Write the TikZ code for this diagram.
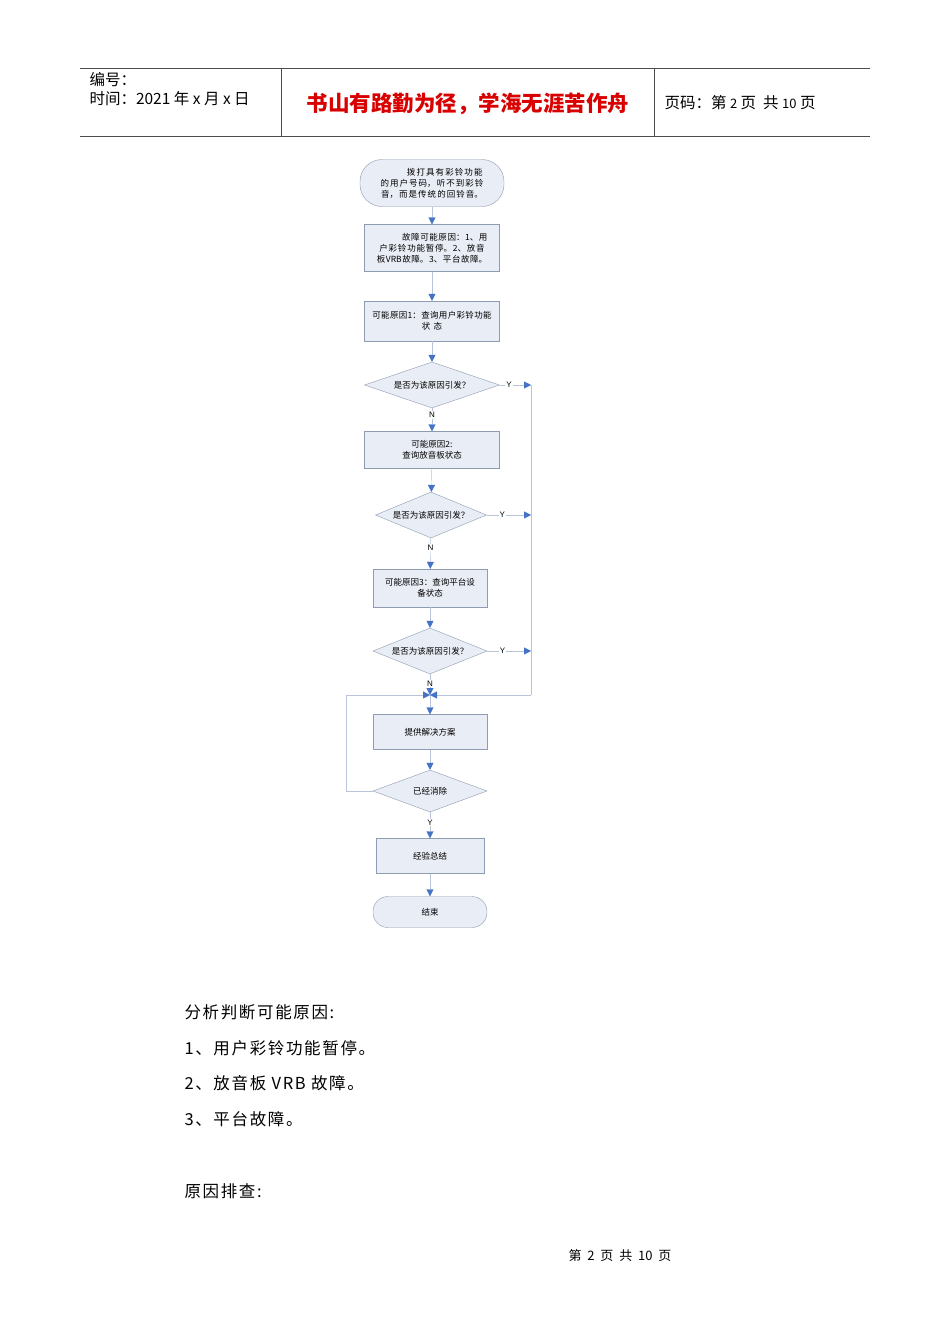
\documentclass[tikz,border=0pt]{standalone}
\usepackage{fontspec}
\setmainfont{Liberation Sans}
\newfontfamily\cjk{Noto Sans CJK SC}
\newfontfamily\cjkw[LetterSpace=10]{Noto Sans CJK SC}
\XeTeXlinebreaklocale "zh"
\XeTeXlinebreakskip=0pt plus 1pt
\usetikzlibrary{shapes.geometric,arrows.meta}
\definecolor{fillc}{HTML}{E9EDF5}
\definecolor{bordc}{HTML}{8E9BB0}
\definecolor{arrc}{HTML}{4472C4}
\definecolor{linec}{HTML}{B8C4D8}
\begin{document}
\begin{tikzpicture}[x=1pt,y=-1pt,
  boxs/.style={draw=bordc,fill=fillc,font=\cjk\fontsize{8.5}{11}\selectfont,align=center,inner sep=1pt},
  dia/.style={draw=bordc,fill=fillc,diamond,aspect=3,font=\cjk\fontsize{8.5}{10}\selectfont,inner sep=0pt},
  conn/.style={draw=linec,-{Triangle[length=7pt,width=7pt,fill=arrc,color=arrc]}},
  lab/.style={font=\fontsize{8}{9}\selectfont,fill=white,inner sep=1pt}]
\useasboundingbox (0,0) rectangle (950,1344);
\fill[white] (0,0) rectangle (950,1344);
% header
\draw[black!70] (80,68) -- (870,68);
\draw[black!70] (80,136) -- (870,136);
\draw[black!70] (281,68) -- (281,136);
\draw[black!70] (654,68) -- (654,136);
\node[anchor=west,font=\cjk\fontsize{15.5}{17}\selectfont] (h1) at (86,80) {编号：};
\node[anchor=west,font=\cjk\fontsize{15.5}{17}\selectfont] (h2) at (86,99) {时间：2021 年 x 月 x 日};
\node[font=\cjk\bfseries\fontsize{21.5}{24}\selectfont,text=red!85!black] (h3) at (468,104) {书山有路勤为径，学海无涯苦作舟};
\node[anchor=west,font=\cjk\fontsize{15.5}{17}\selectfont] (h4) at (661,103) {页码：第 {\fontsize{13}{14}\selectfont 2} 页\ \ 共 {\fontsize{13}{14}\selectfont 10} 页};
% flowchart
\node[boxs,rounded corners=22pt,minimum width=144pt,minimum height=47pt,text width=138pt] (s) at (432,183) {\hspace*{3em}拨打具有彩铃功能的用户号码，听不到彩铃音，而是传统的回铃音。};
\node[boxs,minimum width=135pt,minimum height=47pt,text width=131pt] (b1) at (432,248) {\hspace*{3em}故障可能原因：1、用户彩铃功能暂停。2、放音板VRB故障。3、平台故障。};
\node[boxs,minimum width=135pt,minimum height=40pt,text width=131pt] (b2) at (432,321) {可能原因1：查询用户彩铃功能\\状态};
\node[dia,minimum width=135pt,minimum height=46pt] (d1) at (432,385) {是否为该原因引发？};
\node[boxs,minimum width=135pt,minimum height=37pt] (b3) at (432,450) {可能原因2:\\查询放音板状态};
\node[dia,minimum width=111pt,minimum height=46pt] (d2) at (431,515) {是否为该原因引发？};
\node[boxs,minimum width=114pt,minimum height=38pt] (b4) at (430,588) {可能原因3：查询平台设\\备状态};
\node[dia,minimum width=114pt,minimum height=46pt] (d3) at (430,651) {是否为该原因引发？};
\coordinate (m) at (430,695);
\node[boxs,minimum width=114pt,minimum height=35pt] (b5) at (430,732) {提供解决方案};
\node[dia,minimum width=114pt,minimum height=42pt] (d4) at (430,791) {已经消除};
\node[boxs,minimum width=108pt,minimum height=35pt] (b6) at (430,856) {经验总结};
\node[boxs,rounded corners=15pt,minimum width=114pt,minimum height=31pt] (e) at (430,912) {结束};
\coordinate (r1) at (531,385);
\coordinate (r2) at (531,515);
\coordinate (r3) at (531,651);
\coordinate (rb) at (531,695);
\coordinate (l1) at (346,791);
\coordinate (l2) at (346,695);
\draw[conn] (s) -- (b1);
\draw[conn] (b1) -- (b2);
\draw[conn] (b2) -- (d1);
\draw[conn] (d1) -- node[lab,pos=0.3]{N} (b3);
\draw[conn] (b3) -- (d2);
\draw[conn] (d2) -- node[lab,pos=0.3]{N} (b4);
\draw[conn] (b4) -- (d3);
\draw[conn] (d3.south) -- node[lab,pos=0.45]{N} (m);
\draw[conn] (m) -- (b5);
\draw[conn] (b5) -- (d4);
\draw[conn] (d4) -- node[lab,pos=0.4]{Y} (b6);
\draw[conn] (b6) -- (e);
\draw[conn] (d1.east) -- node[lab,pos=0.3]{Y} (r1);
\draw[conn] (d2.east) -- node[lab,pos=0.35]{Y} (r2);
\draw[conn] (d3.east) -- node[lab,pos=0.35]{Y} (r3);
\draw[linec] (r1) -- (rb);
\draw[conn] (rb) -- (m);
\draw[linec] (d4.west) -- (l1) -- (l2);
\draw[conn] (l2) -- (m);
% body text
\begin{scope}[every node/.style={anchor=west,font=\cjkw\fontsize{16.5}{18}\selectfont}]
\node (t1) at (181,1012) {分析判断可能原因:};
\node (t2) at (181,1048) {1、用户彩铃功能暂停。};
\node (t3) at (181,1083) {2、放音板 VRB 故障。};
\node (t4) at (181,1119) {3、平台故障。};
\node (t5) at (181,1191) {原因排查:};
\end{scope}
\node[font=\cjk\fontsize{13}{15}\selectfont] (f) at (620,1256) {第\ \ 2\ \ 页\ \ 共\ \ 10\ \ 页};
\end{tikzpicture}
\end{document}
